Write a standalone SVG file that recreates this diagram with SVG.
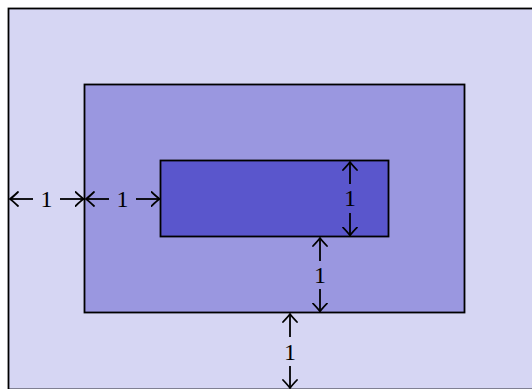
<svg xmlns="http://www.w3.org/2000/svg" width="532" height="389" viewBox="0 0 532 389">
<defs>
<marker id="to" viewBox="-9 -8 11 16" markerWidth="11" markerHeight="16" refX="0" refY="0" orient="auto-start-reverse" markerUnits="userSpaceOnUse">
<path d="M -8,-7 Q -2.5,-1.8 0,0 Q -2.5,1.8 -8,7" fill="none" stroke="#000" stroke-width="1.8" stroke-linecap="round"/>
</marker>
<style>
.r{stroke:#000;stroke-width:1.8}
.a{stroke:#000;stroke-width:1.8;fill:none}
.t{font-family:"Liberation Serif",serif;font-size:24px;fill:#000;text-anchor:middle;dominant-baseline:central}
</style>
</defs>
<g id="outer"><rect class="r" x="8.5" y="8.5" width="532" height="381" fill="#d6d6f3"/></g>
<g id="middle"><rect class="r" x="84.5" y="84.5" width="380" height="228" fill="#9a97e0"/></g>
<g id="inner"><rect class="r" x="160.5" y="160.5" width="228" height="76" fill="#5a56cc"/></g>
<g id="connectors">
<line class="a" x1="33" y1="199" x2="10" y2="199" marker-end="url(#to)"/>
<line class="a" x1="60" y1="199" x2="83.5" y2="199" marker-end="url(#to)"/>
<line class="a" x1="109" y1="199" x2="86" y2="199" marker-end="url(#to)"/>
<line class="a" x1="136" y1="199" x2="159.5" y2="199" marker-end="url(#to)"/>
<line class="a" x1="350" y1="184" x2="350" y2="162" marker-end="url(#to)"/>
<line class="a" x1="350" y1="213" x2="350" y2="235.5" marker-end="url(#to)"/>
<line class="a" x1="320" y1="261" x2="320" y2="238" marker-end="url(#to)"/>
<line class="a" x1="320" y1="289" x2="320" y2="311.5" marker-end="url(#to)"/>
<line class="a" x1="290" y1="337" x2="290" y2="314" marker-end="url(#to)"/>
<line class="a" x1="290" y1="366" x2="290" y2="388" marker-end="url(#to)"/>
</g>
<g id="labels">
<text class="t" x="46.5" y="198.5">1</text>
<text class="t" x="122.5" y="198.5">1</text>
<text class="t" x="350" y="198">1</text>
<text class="t" x="320" y="274.5">1</text>
<text class="t" x="290" y="351.5">1</text>
</g>
</svg>
